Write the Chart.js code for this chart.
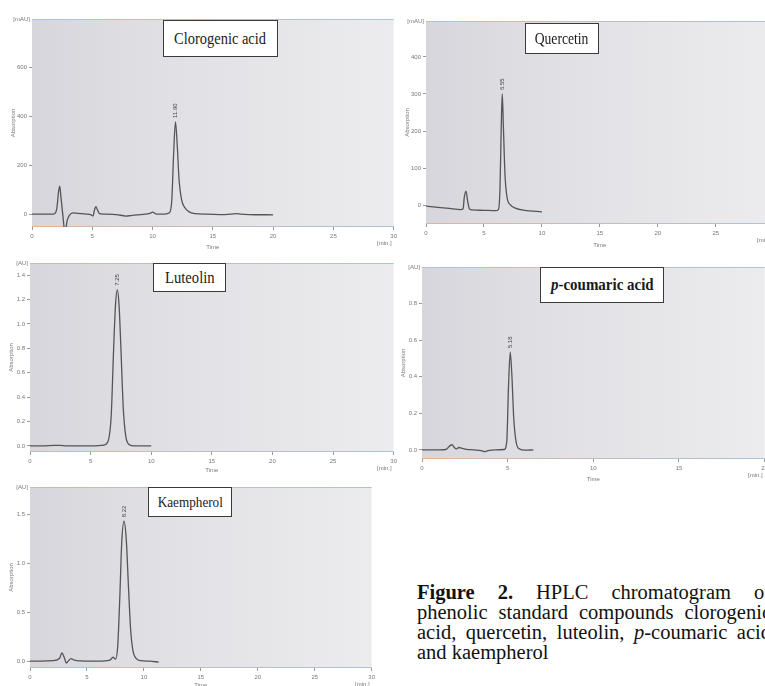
<!DOCTYPE html>
<html><head><meta charset="utf-8">
<script src="https://cdn.jsdelivr.net/npm/chart.js@4"></script>
<style>
body{margin:0;width:765px;height:686px;overflow:hidden;background:#fff;position:relative;}
canvas{position:absolute;}
.box{position:absolute;background:#fff;border:1.5px solid #3a3a3a;box-sizing:border-box;display:flex;align-items:center;justify-content:center;color:#1a1a1a;font-family:'Liberation Serif',serif;white-space:nowrap;}
.box span{display:inline-block;}
#cap{position:absolute;left:417px;top:582px;width:354px;font-family:'Liberation Serif',serif;font-size:20.5px;line-height:20px;color:#111;}
#cap .j{text-align:justify;text-align-last:justify;}
</style>
</head><body>
<canvas id="c1"></canvas>
<canvas id="c2"></canvas>
<canvas id="c3"></canvas>
<canvas id="c4"></canvas>
<canvas id="c5"></canvas>

<div class="box" style="left:163px;top:20px;width:115px;height:37px;font-size:17px;"><span style="transform:scaleX(0.85)">Clorogenic acid</span></div>
<div class="box" style="left:525px;top:23px;width:74px;height:31px;font-size:16px;"><span style="transform:scaleX(0.85)">Quercetin</span></div>
<div class="box" style="left:153px;top:263px;width:73px;height:29px;font-size:17px;"><span style="transform:scaleX(0.86)">Luteolin</span></div>
<div class="box" style="left:540px;top:267px;width:124px;height:36px;font-size:17px;font-weight:bold;"><span style="transform:scaleX(0.88)"><i>p</i>-coumaric acid</span></div>
<div class="box" style="left:148px;top:487px;width:84px;height:30px;font-size:15.5px;"><span style="transform:scaleX(0.85)">Kaempherol</span></div>

<div id="cap">
<div class="j"><b>Figure 2.</b> HPLC chromatogram of</div>
<div class="j">phenolic standard compounds clorogenic</div>
<div class="j">acid, quercetin, luteolin, <i>p</i>-coumaric acid</div>
<div>and kaempherol</div>
</div>

<script>
// ---------- DATA ----------
const clorogenicTime = [0, 1.0, 1.8, 2.05, 2.2, 2.3, 2.4, 2.55, 2.75, 2.9, 3.1, 3.4, 3.8, 4.5, 4.9, 5.05, 5.2, 5.3, 5.45, 5.6, 6.0, 7.0, 7.8, 8.2, 9.0, 9.8, 10.0, 10.3, 11.0, 11.4, 11.6, 11.75, 11.9, 12.05, 12.2, 12.4, 12.7, 13.0, 13.5, 14.5, 16.0, 17.0, 17.3, 18.0, 20.0];
const clorogenicAbs  = [0, 0, 0, 20, 90, 115, 70, 0, -80, -30, -5, 5, 3, 0, -3, -8, 20, 30, 15, 2, 0, -2, -8, -6, -2, 3, 8, 0, 0, 5, 60, 250, 378, 280, 140, 60, 25, 10, 2, 0, -2, 2, 0, -2, -3];

const quercetinTime = [0, 1, 2, 3.0, 3.2, 3.3, 3.45, 3.6, 3.75, 4.0, 5.0, 6.0, 6.25, 6.38, 6.5, 6.58, 6.68, 6.82, 7.0, 7.3, 7.7, 8.5, 10];
const quercetinAbs  = [-3, -6, -9, -12, -10, 20, 38, 10, -10, -13, -14, -15, -12, 40, 220, 300, 210, 80, 20, 0, -8, -14, -18];

const luteolinTime = [0, 1, 2, 2.5, 3, 5, 6.0, 6.4, 6.7, 6.9, 7.05, 7.2, 7.35, 7.5, 7.7, 7.9, 8.2, 8.6, 10];
const luteolinAbs  = [0, 0, 0.005, 0.005, 0, 0, 0.005, 0.03, 0.25, 0.8, 1.15, 1.28, 1.15, 0.8, 0.3, 0.08, 0.01, 0, 0];

const coumaricTime = [0, 1.0, 1.4, 1.6, 1.75, 1.9, 2.0, 2.15, 2.3, 2.6, 3.0, 3.5, 3.65, 3.85, 4.3, 4.8, 4.95, 5.05, 5.15, 5.25, 5.35, 5.5, 5.7, 6.0, 6.5];
const coumaricAbs  = [0, 0, 0.002, 0.02, 0.028, 0.012, 0.005, 0.013, 0.01, 0.003, 0, -0.005, -0.01, -0.004, 0, 0.002, 0.05, 0.35, 0.535, 0.4, 0.18, 0.04, 0.005, -0.002, 0];

const kaempherolTime = [0, 1, 2.0, 2.6, 2.8, 3.0, 3.2, 3.35, 3.6, 3.9, 4.5, 6.0, 7.0, 7.3, 7.5, 7.7, 7.9, 8.05, 8.25, 8.45, 8.65, 8.85, 9.05, 9.3, 9.7, 10.5, 11.3];
const kaempherolAbs  = [0, 0, 0.005, 0.03, 0.085, 0.04, -0.02, 0, 0.025, 0.01, 0.003, 0, 0.01, 0.04, 0.02, 0.15, 0.7, 1.2, 1.43, 1.25, 0.75, 0.3, 0.1, 0.03, 0.005, 0, -0.01];

const timeTicks30 = [0, 5, 10, 15, 20, 25, 30];
const timeTicks20 = [0, 5, 10, 15, 20];
const yTicksClorogenic = [0, 200, 400, 600];
const yTicksQuercetin  = [0, 100, 200, 300, 400];
const yTicksLuteolin   = [0, 0.2, 0.4, 0.6, 0.8, 1.0, 1.2, 1.4];
const yTicksCoumaric   = [0, 0.2, 0.4, 0.6, 0.8];
const yTicksKaempherol = [0, 0.5, 1.0, 1.5];
const peakLabels = ['11.90', '6.55', '7.25', '5.18', '8.22'];
const unitLabels = ['[mAU]', '[mAU]', '[AU]', '[AU]', '[AU]'];

// ---------- LAYOUT ----------
const panels = [
  {id:'c1', left:0,   top:0,   w:400, h:250, padTop:19, yW:32, xH:23, time:clorogenicTime, abs:clorogenicAbs, xMax:30, xTicks:timeTicks30, yMin:-53, yMax:800, yTicks:yTicksClorogenic, dec:0, timeOff:20},
  {id:'c2', left:395, top:0,   w:385, h:250, padTop:21, yW:31, xH:26, time:quercetinTime, abs:quercetinAbs, xMax:30, xTicks:timeTicks30, yMin:-51, yMax:497, yTicks:yTicksQuercetin, dec:0, timeOff:21},
  {id:'c3', left:0,   top:250, w:400, h:230, padTop:13, yW:30, xH:28, time:luteolinTime, abs:luteolinAbs, xMax:30, xTicks:timeTicks30, yMin:-0.05, yMax:1.5, yTicks:yTicksLuteolin, dec:1, timeOff:18},
  {id:'c4', left:395, top:255, w:376, h:230, padTop:12, yW:27, xH:26, time:coumaricTime, abs:coumaricAbs, xMax:20, xTicks:timeTicks20, yMin:-0.05, yMax:1.0, yTicks:yTicksCoumaric, dec:1, timeOff:20},
  {id:'c5', left:0,   top:475, w:378, h:211, padTop:12, yW:30, xH:18, time:kaempherolTime, abs:kaempherolAbs, xMax:30, xTicks:timeTicks30, yMin:-0.07, yMax:1.78, yTicks:yTicksKaempherol, dec:1, timeOff:17}
];

Chart.defaults.font.family = "'Liberation Sans', Arial, sans-serif";
Chart.defaults.font.size = 6;
Chart.defaults.color = '#777';

const deco = {
  id: 'deco',
  beforeDraw(chart, args, o) {
    const {ctx, chartArea: a} = chart;
    ctx.save();
    const g = ctx.createLinearGradient(a.left, 0, a.right, 0);
    g.addColorStop(0, '#d6d6dc');
    g.addColorStop(0.45, '#e2e2e6');
    g.addColorStop(1, '#ececee');
    ctx.fillStyle = g;
    ctx.fillRect(a.left, a.top, a.width, a.height);
    const lg = ctx.createLinearGradient(a.left, 0, a.right, 0);
    lg.addColorStop(0, '#e3b597');
    lg.addColorStop(1, '#a6c4dc');
    ctx.strokeStyle = lg;
    ctx.lineWidth = 1;
    ctx.beginPath();
    ctx.moveTo(a.left, a.top + 0.5); ctx.lineTo(a.right, a.top + 0.5);
    ctx.moveTo(a.left, a.bottom - 0.5); ctx.lineTo(a.right, a.bottom - 0.5);
    ctx.stroke();
    ctx.restore();
  },
  afterDraw(chart, args, o) {
    const {ctx, chartArea: a, scales} = chart;
    ctx.save();
    ctx.fillStyle = '#777';
    ctx.font = "6px 'Liberation Sans', Arial, sans-serif";
    ctx.textAlign = 'right'; ctx.textBaseline = 'middle';
    ctx.fillText(o.unit, a.left - 2, a.top);
    ctx.fillText('[min.]', a.right - 2, a.bottom + 16);
    ctx.textAlign = 'center';
    ctx.fillText('Time', (a.left + a.right) / 2, a.bottom + o.timeOff);
    ctx.save();
    ctx.translate(a.left - 19, (a.top + a.bottom) / 2);
    ctx.rotate(-Math.PI / 2);
    ctx.fillText('Absorption', 0, 0);
    ctx.restore();
    const ds = chart.data.datasets[0].data;
    let m = ds[0];
    ds.forEach(p => { if (p.y > m.y) m = p; });
    const px = scales.x.getPixelForValue(m.x);
    const py = scales.y.getPixelForValue(m.y);
    ctx.fillStyle = '#444';
    ctx.translate(px, py - 4);
    ctx.rotate(-Math.PI / 2);
    ctx.textAlign = 'left'; ctx.textBaseline = 'middle';
    ctx.fillText(o.peak, 0, 0);
    ctx.restore();
  }
};

panels.forEach((p, i) => {
  const cv = document.getElementById(p.id);
  cv.style.left = p.left + 'px';
  cv.style.top = p.top + 'px';
  cv.width = p.w; cv.height = p.h;
  cv.style.width = p.w + 'px'; cv.style.height = p.h + 'px';
  new Chart(cv, {
    type: 'line',
    data: {
      datasets: [{
        data: p.time.map((t, k) => ({x: t, y: p.abs[k]})),
        borderColor: '#555',
        borderWidth: 1.3,
        pointRadius: 0,
        fill: false,
        cubicInterpolationMode: 'monotone'
      }]
    },
    options: {
      responsive: false,
      animation: false,
      events: [],
      layout: {padding: {top: p.padTop, right: 6, left: 0, bottom: 0}},
      plugins: {
        legend: {display: false},
        tooltip: {enabled: false},
        deco: {unit: unitLabels[i], peak: peakLabels[i], timeOff: p.timeOff}
      },
      scales: {
        x: {
          type: 'linear', min: 0, max: p.xMax,
          afterBuildTicks: s => { s.ticks = p.xTicks.map(v => ({value: v})); },
          afterFit: s => { s.height = p.xH; },
          ticks: {padding: 3, maxRotation: 0, autoSkip: false, color: '#777', callback: v => String(v)},
          grid: {drawOnChartArea: false, tickLength: 3, color: '#999'},
          border: {display: false}
        },
        y: {
          type: 'linear', min: p.yMin, max: p.yMax,
          afterBuildTicks: s => { s.ticks = p.yTicks.map(v => ({value: v})); },
          afterFit: s => { s.width = p.yW; },
          ticks: {padding: 2, autoSkip: false, color: '#777', callback: v => Number(v).toFixed(p.dec)},
          grid: {drawOnChartArea: false, tickLength: 3, color: '#999'},
          border: {display: false}
        }
      }
    },
    plugins: [deco]
  });
});
</script>
</body></html>
